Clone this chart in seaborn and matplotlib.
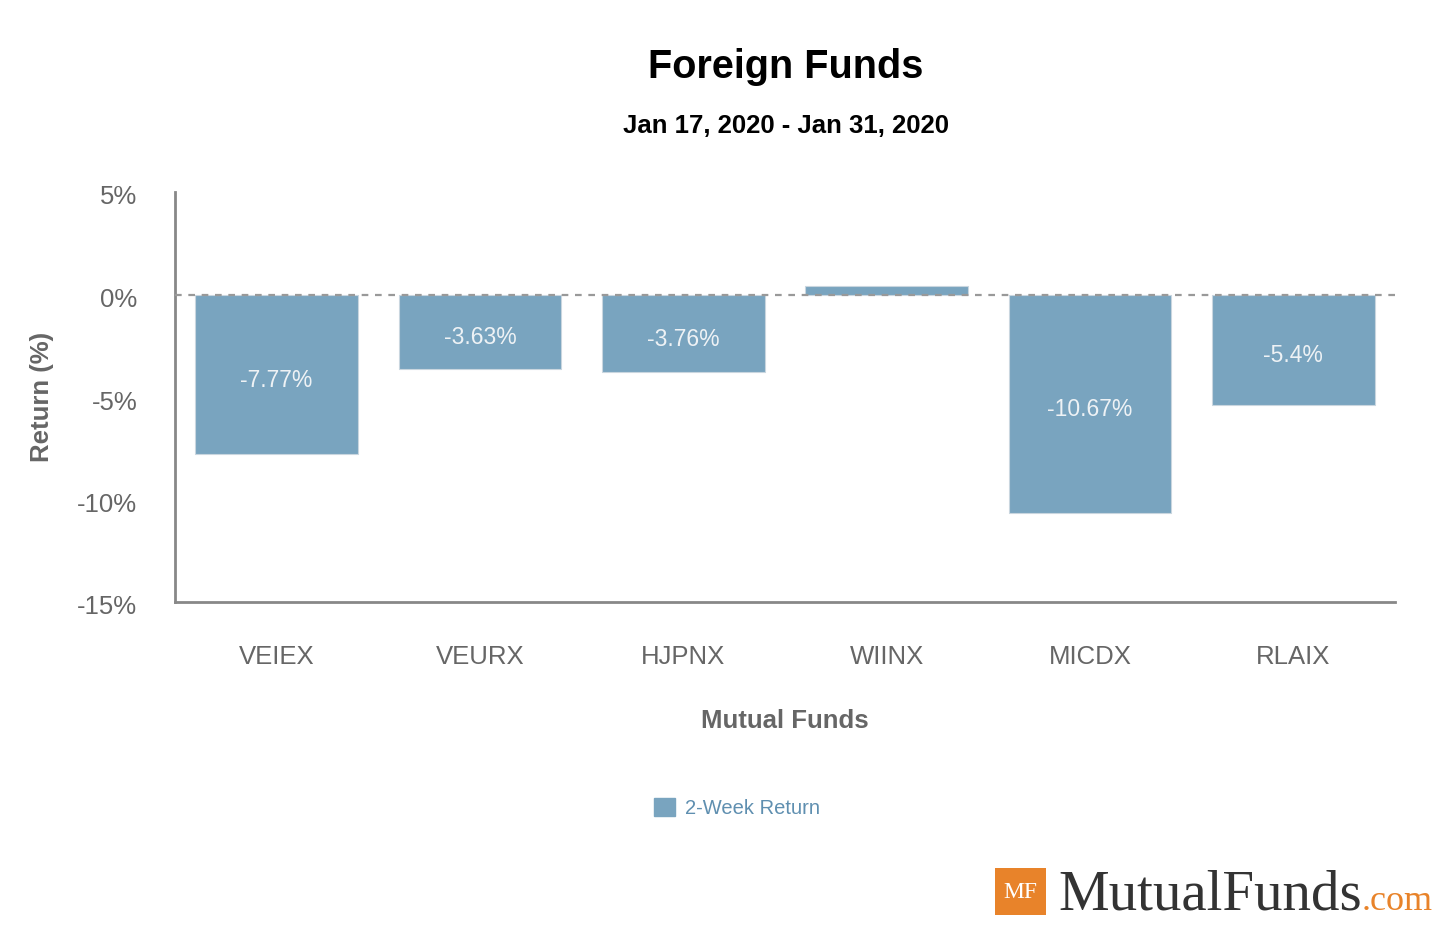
import matplotlib
matplotlib.use("Agg")
import matplotlib.pyplot as plt
import seaborn as sns
import pandas as pd
from matplotlib.patches import Patch, Rectangle
from matplotlib.transforms import ScaledTranslation

funds = ["VEIEX", "VEURX", "HJPNX", "WIINX", "MICDX", "RLAIX"]
returns = [-7.77, -3.63, -3.76, 0.42, -10.67, -5.4]
yticks = [5, 0, -5, -10, -15]
title = "Foreign Funds"
subtitle = "Jan 17, 2020 - Jan 31, 2020"
series_name = "2-Week Return"

sns.set_theme(style="white")
plt.rcParams["font.family"] = ["Liberation Sans", "DejaVu Sans"]

BAR = "#79a4bf"
GREY = "#666666"

df = pd.DataFrame({"fund": funds, "ret": returns})

fig = plt.figure(figsize=(14.45, 9.25), dpi=100)
ax = fig.add_axes([175/1445, 1-602/925, (1395-175)/1445, (602-192)/925])

sns.barplot(data=df, x="fund", y="ret", color=BAR, saturation=1, width=0.8,
            edgecolor="#c9d6df", linewidth=0.8, ax=ax)

ax.set_ylim(-15, 5)
ax.set_xlim(-0.5, len(funds) - 0.5)
ax.set_yticks(yticks)
ax.set_yticklabels([f"{t}%" for t in yticks])
ax.tick_params(axis="y", length=0, pad=27, labelsize=18.5, labelcolor=GREY)
ax.tick_params(axis="x", length=0, pad=31, labelsize=18.5, labelcolor=GREY)
shift = ScaledTranslation(0, -3/100, fig.dpi_scale_trans)
for lbl in ax.get_yticklabels():
    lbl.set_transform(lbl.get_transform() + shift)

ax.axhline(0, color="#999999", linestyle=(0, (3, 3)), linewidth=1.6, zorder=5)

for side in ["top", "right"]:
    ax.spines[side].set_visible(False)
for side in ["left", "bottom"]:
    ax.spines[side].set_color("#888888")
    ax.spines[side].set_linewidth(2)

labels = [f"{v:g}%" if v < 0 else "" for v in returns]
anns = ax.bar_label(ax.containers[0], labels=labels, label_type="center",
                    color="#eef2f5", fontsize=16.5)
for a in anns:
    a.xyann = (0, -4.3)

ax.set_xlabel("Mutual Funds", fontsize=18.5, fontweight="bold", color=GREY, labelpad=28.5)
ax.set_ylabel("Return (%)", fontsize=18.5, fontweight="bold", color=GREY)
ax.yaxis.set_label_coords(-(175-54)/1220, 0.5)

cx = 786/1445
fig.text(cx, 1-67/925, title, ha="center", va="center", fontsize=28.5, fontweight="bold", color="black")
fig.text(cx, 1-126/925, subtitle, ha="center", va="center", fontsize=18.5, fontweight="bold", color="black")

handles = [Patch(facecolor=BAR, edgecolor=BAR, label=series_name)]
leg = fig.legend(handles=handles, loc="center", bbox_to_anchor=(737/1445, 1-808/925),
                 frameon=False, fontsize=14.5, handlelength=1.0, handleheight=1.0,
                 handletextpad=0.5)
for t in leg.get_texts():
    t.set_color("#5f8fb0")

# logo
fig.patches.append(Rectangle((995/1445, 1-915/925), 51/1445, 47/925,
                             transform=fig.transFigure, facecolor="#e8832a",
                             edgecolor="none"))
fig.text(1020.5/1445, 1-892/925, "MF", ha="center", va="center", color="white",
         fontsize=17, family=["Liberation Serif", "DejaVu Serif"])
fig.text(1058/1445, 1-910/925, "MutualFunds", ha="left", va="baseline", color="#333333",
         fontsize=41, family=["Liberation Serif", "DejaVu Serif"])
fig.text(1433/1445, 1-910/925, ".com", ha="right", va="baseline", color="#e8832a",
         fontsize=26, family=["Liberation Serif", "DejaVu Serif"])

fig.savefig("out.png", dpi=100, facecolor="white")
